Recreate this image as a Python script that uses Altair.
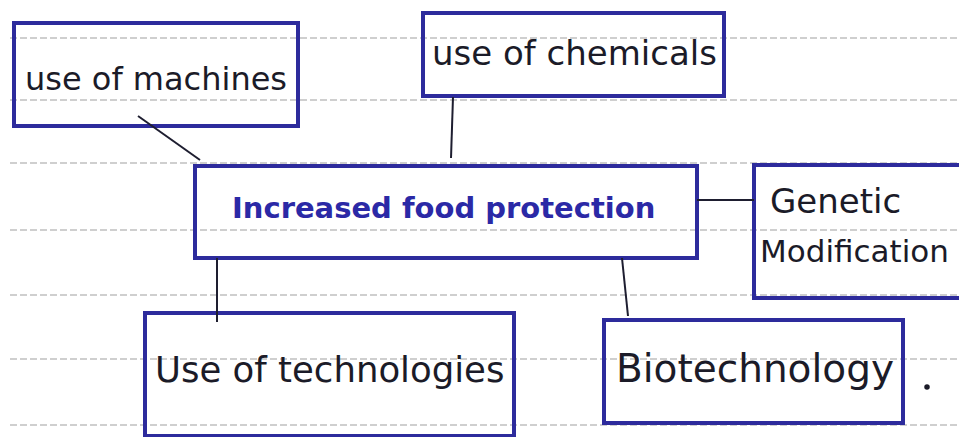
import altair as alt
import pandas as pd

# Box outlines (reference pixel coordinates)
box_names = ["machines", "chemicals", "central", "genetic", "technologies", "biotech"]
box_left = [14, 423, 195, 754, 145, 604]
box_top = [23, 13, 166, 165, 313, 320]
box_right = [298, 724, 697, 972, 514, 903]
box_bottom = [126, 96, 258, 298, 436, 423]

# Connector segments
conn_x1 = [138, 453, 697, 217, 622]
conn_y1 = [116, 97, 200, 258, 258]
conn_x2 = [200, 451, 754, 217, 628]
conn_y2 = [160, 158, 200, 322, 316]

# Labels
label_text = ["use of machines", "use of chemicals", "Genetic", "Modification",
              "Use of technologies", "Biotechnology"]
label_x = [25, 432, 770, 760, 155, 616]
label_y = [90, 65, 213, 262, 382, 382]
label_size = [32, 34, 34, 31, 35.5, 39]

central_text = ["Increased food protection"]
central_x = [232]
central_y = [218]

# Ruled paper lines
rule_y = [38, 100, 163, 230, 295, 359, 425]

# Stray dot after Biotechnology
dot_x = [927]
dot_y = [387]

W, H = 951, 429
xs = alt.Scale(domain=[8, 8 + W], nice=False, zero=False)
ys = alt.Scale(domain=[8, 8 + H], nice=False, zero=False, reverse=True)

boxes = pd.DataFrame({"name": box_names, "l": box_left, "t": box_top,
                      "r": box_right, "b": box_bottom})
conns = pd.DataFrame({"x1": conn_x1, "y1": conn_y1, "x2": conn_x2, "y2": conn_y2})
labels = pd.DataFrame({"text": label_text, "x": label_x, "y": label_y, "size": label_size})
central = pd.DataFrame({"text": central_text, "x": central_x, "y": central_y})
rules = pd.DataFrame({"y": rule_y, "x1": [0] * len(rule_y), "x2": [967] * len(rule_y)})
dots = pd.DataFrame({"x": dot_x, "y": dot_y})

noaxis = dict(axis=None)

ruled = alt.Chart(rules).mark_rule(color="#8f8f8f", strokeWidth=1.2, strokeDash=[7, 3],
                                   opacity=0.85, clip=True).encode(
    x=alt.X("x1:Q", scale=xs, **noaxis), x2="x2:Q",
    y=alt.Y("y:Q", scale=ys, **noaxis))

rects = alt.Chart(boxes).mark_rect(fillOpacity=0, stroke="#2d2b9c", strokeWidth=4,
                                   clip=True).encode(
    x=alt.X("l:Q", scale=xs, **noaxis), x2="r:Q",
    y=alt.Y("t:Q", scale=ys, **noaxis), y2="b:Q")

lines = alt.Chart(conns).mark_rule(color="#1e1e30", strokeWidth=2).encode(
    x=alt.X("x1:Q", scale=xs, **noaxis), x2="x2:Q",
    y=alt.Y("y1:Q", scale=ys, **noaxis), y2="y2:Q")

texts = alt.Chart(labels).mark_text(align="left", baseline="alphabetic",
                                    font="DejaVu Sans", color="#1b1b28").encode(
    x=alt.X("x:Q", scale=xs, **noaxis), y=alt.Y("y:Q", scale=ys, **noaxis),
    text="text:N", size=alt.Size("size:Q", scale=None, legend=None))

ctext = alt.Chart(central).mark_text(align="left", baseline="alphabetic",
                                     font="DejaVu Sans", fontSize=29, fontWeight="bold",
                                     color="#2b29a6").encode(
    x=alt.X("x:Q", scale=xs, **noaxis), y=alt.Y("y:Q", scale=ys, **noaxis),
    text="text:N")

dot = alt.Chart(dots).mark_circle(size=30, color="#1b1b28", opacity=1).encode(
    x=alt.X("x:Q", scale=xs, **noaxis), y=alt.Y("y:Q", scale=ys, **noaxis))

chart = alt.layer(ruled, rects, lines, texts, ctext, dot).properties(
    width=W, height=H, padding=0, autosize=alt.AutoSizeParams(type="none"),
    background="white"
).configure_view(stroke=None)

chart.save("out.html", embed_options={"renderer": "svg", "actions": False})
